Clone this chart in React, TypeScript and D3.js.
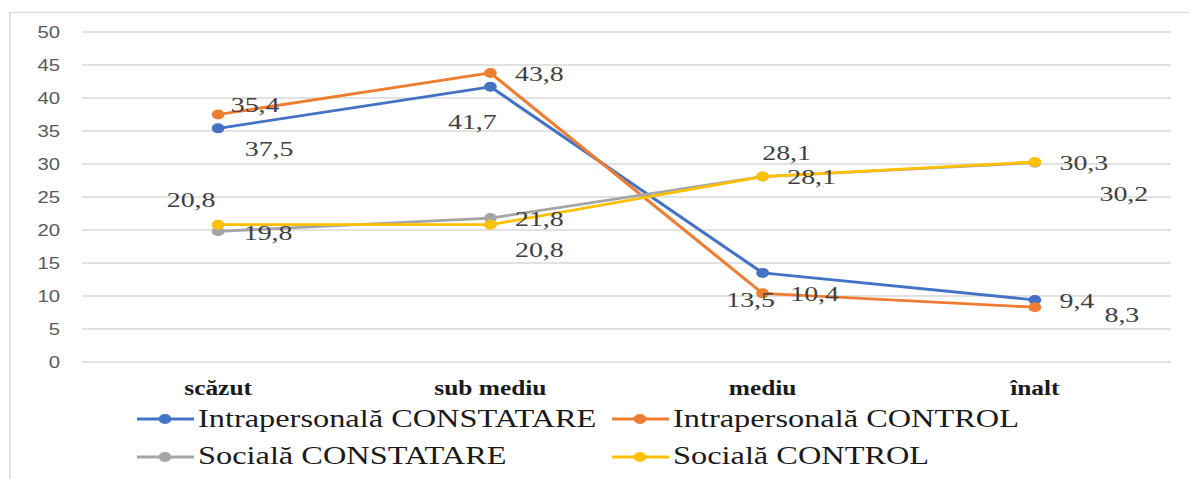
import React from "react";
import * as d3 from "d3";

// values
const categories = ["scăzut", "sub mediu", "mediu", "înalt"];
const seriesNames = [
    "Intrapersonală CONSTATARE",
    "Intrapersonală CONTROL",
    "Socială CONSTATARE",
    "Socială CONTROL",
];
const intraConstatare = [35.4, 41.7, 13.5, 9.4];
const intraControl = [37.5, 43.8, 10.4, 8.3];
const socialaConstatare = [19.8, 21.8, 28.1, 30.2];
const socialaControl = [20.8, 20.8, 28.1, 30.3];
const yTicks = [0, 5, 10, 15, 20, 25, 30, 35, 40, 45, 50];

const colors = ["#4472C4", "#ED7D31", "#A5A5A5", "#FFC000"];

// the data labels were dragged around by hand in the original (screen px offsets)
const labelNudge = [
    [[37, -24], [-18, 35], [-12, 26], [42, 0]],
    [[51, 34], [49, 0], [52, 0], [87, 7]],
    [[50, 1], [49, 0], [49, 0], [89, 31]],
    [[-27, -25], [49, 25], [24, -24], [49, 0]],
];

// the picture is stretched horizontally, so everything is drawn in a narrower box
const SX = 1.27;
const WIDTH = 1189;
const HEIGHT = 479;
const VW = WIDTH / SX;

const serif = "Liberation Serif, Times New Roman, serif";
const sans = "Liberation Sans, Arial, sans-serif";

export default function App()
{
    const series = [intraConstatare, intraControl, socialaConstatare, socialaControl];

    const x = d3.scaleBand<string>()
        .domain(categories)
        .range([82 / SX, 1171 / SX]);
    const cx = (c: string) => (x(c) as number) + x.bandwidth() / 2;

    const y = d3.scaleLinear()
        .domain([0, 50])
        .range([362, 32]);

    const line = d3.line<number>()
        .x((d, i) => cx(categories[i]))
        .y((d) => y(d));

    const fmt = (v: number) => d3.format(".1f")(v).replace(".", ",");

    const legendRows = [
        { y: 419, base: 427 },
        { y: 457, base: 464 },
    ];
    const legendCols = [137 / SX, 612 / SX];

    return (
        <svg
            width={WIDTH}
            height={HEIGHT}
            viewBox={`0 0 ${VW} ${HEIGHT}`}
            preserveAspectRatio="none"
            style={{ position: "absolute", left: 0, top: 0, background: "#fff", display: "block" }}
        >
            <rect x={10 / SX} y={12.5} width={VW} height={HEIGHT} fill="none" stroke="#D9D9D9" strokeWidth={1.2} />

            {/* gridlines and y tick labels */}
            {yTicks.map((t) => (
                <g key={t}>
                    <line x1={82 / SX} x2={1171 / SX} y1={y(t)} y2={y(t)} stroke="#D9D9D9" strokeWidth={1.3} />
                    <text
                        x={60 / SX}
                        y={y(t)}
                        dy="0.35em"
                        textAnchor="end"
                        style={{ fontFamily: sans, fontSize: 16 }}
                        fill="#595959"
                    >
                        {t}
                    </text>
                </g>
            ))}

            {/* category labels */}
            {categories.map((c) => (
                <text
                    key={c}
                    x={cx(c)}
                    y={395}
                    textAnchor="middle"
                    style={{ fontFamily: serif, fontSize: 20, fontWeight: "bold" }}
                    fill="#1a1a1a"
                >
                    {c}
                </text>
            ))}

            {/* lines and markers */}
            {series.map((s, si) => (
                <g key={si}>
                    <path d={line(s) as string} fill="none" stroke={colors[si]} strokeWidth={2.8} strokeLinejoin="round" />
                    {s.map((v, i) => (
                        <circle key={i} cx={cx(categories[i])} cy={y(v)} r={5} fill={colors[si]} />
                    ))}
                </g>
            ))}

            {/* data labels */}
            {series.map((s, si) => (
                <g key={"l" + si}>
                    {s.map((v, i) => (
                        <text
                            key={i}
                            x={cx(categories[i]) + labelNudge[si][i][0] / SX}
                            y={y(v) + labelNudge[si][i][1]}
                            dy="0.35em"
                            textAnchor="middle"
                            style={{ fontFamily: serif, fontSize: 22 }}
                            fill="#404040"
                        >
                            {fmt(v)}
                        </text>
                    ))}
                </g>
            ))}

            {/* legend */}
            {seriesNames.map((name, i) =>
            {
                const row = legendRows[Math.floor(i / 2)];
                const lx = legendCols[i % 2];
                return (
                    <g key={name}>
                        <line x1={lx} x2={lx + 57 / SX} y1={row.y} y2={row.y} stroke={colors[i]} strokeWidth={2.8} />
                        <circle cx={lx + 28 / SX} cy={row.y} r={5} fill={colors[i]} />
                        <text
                            x={lx + 61 / SX}
                            y={row.base}
                            style={{ fontFamily: serif, fontSize: 25.5 }}
                            fill="#1a1a1a"
                        >
                            {name}
                        </text>
                    </g>
                );
            })}
        </svg>
    );
}
